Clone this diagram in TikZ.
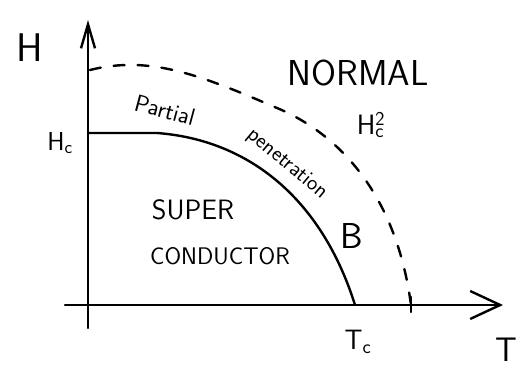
\documentclass[tikz,border=0pt]{standalone}
\usepackage{fontspec}
\usepackage{tikz}
\usetikzlibrary{arrows.meta}

\newcommand{\fsz}[1]{\fontsize{#1}{#1}\selectfont}

\begin{document}
\begin{tikzpicture}[x=1pt, y=-1pt, line width=2.4pt, line cap=round, line join=round]
\tikzstyle{yaxis} = [-{Straight Barb[length=24pt, width=14pt]}]
\tikzstyle{xaxis} = [-{Straight Barb[length=30pt, width=28pt]}]
\tikzstyle{upper} = [dash pattern=on 11pt off 13pt]
\tikzstyle{lbl} = [font=\sffamily, inner sep=0pt]

\useasboundingbox (0,0) rectangle (526,371);

% axes
\coordinate (ybot) at (88,328);
\coordinate (ytop) at (88,20);
\coordinate (xleft) at (65,305);
\coordinate (xtip) at (503,305);
\draw [yaxis] (ybot) -- (ytop);
\draw [xaxis] (xleft) -- (xtip);

% critical fields
\coordinate (hc) at (88,133);
\coordinate (tc) at (355,305);
\coordinate (hc2top) at (90,70);
\coordinate (tc2) at (411,305);
\draw (hc) -- (157,133) .. controls (250,140) and (322,200) .. (tc);
\draw [upper] (hc2top) .. controls (150,55) and (200,75) .. (277,108)
  .. controls (330,130) and (395,185) .. (tc2);
\draw (411,297) -- (411,312);

% labels
\node [lbl, font=\sffamily\fsz{40}] (hlab) at (30,48) {H};
\node [lbl, font=\sffamily\fsz{26}] (hclab) at (60,143) {H\textsubscript{c}};
\node [lbl, font=\sffamily\fsz{36}] (normal) at (358,73) {NORMAL};
\node [lbl, font=\sffamily\fsz{28}] (hc2lab) at (371,125) {H\rlap{\textsubscript{c}}\textsuperscript{2}};
\node [lbl, font=\sffamily\fsz{24}, rotate=-15] (partial) at (165,110) {Partial};
\node [lbl, font=\sffamily\fsz{22}, rotate=-40] (pen) at (287,164) {penetration};
\node [lbl, font=\sffamily\fsz{36}] (blab) at (352,236) {B};
\node [lbl, font=\sffamily\fsz{28}] (super) at (193,210) {SUPER};
\node [lbl, font=\sffamily\fsz{24}] (cond) at (220,256) {CONDUCTOR};
\node [lbl, font=\sffamily\fsz{28}] (tclab) at (358,342) {T\textsubscript{c}};
\node [lbl, font=\sffamily\fsz{34}] (tlab) at (506,350) {T};
\end{tikzpicture}
\end{document}
